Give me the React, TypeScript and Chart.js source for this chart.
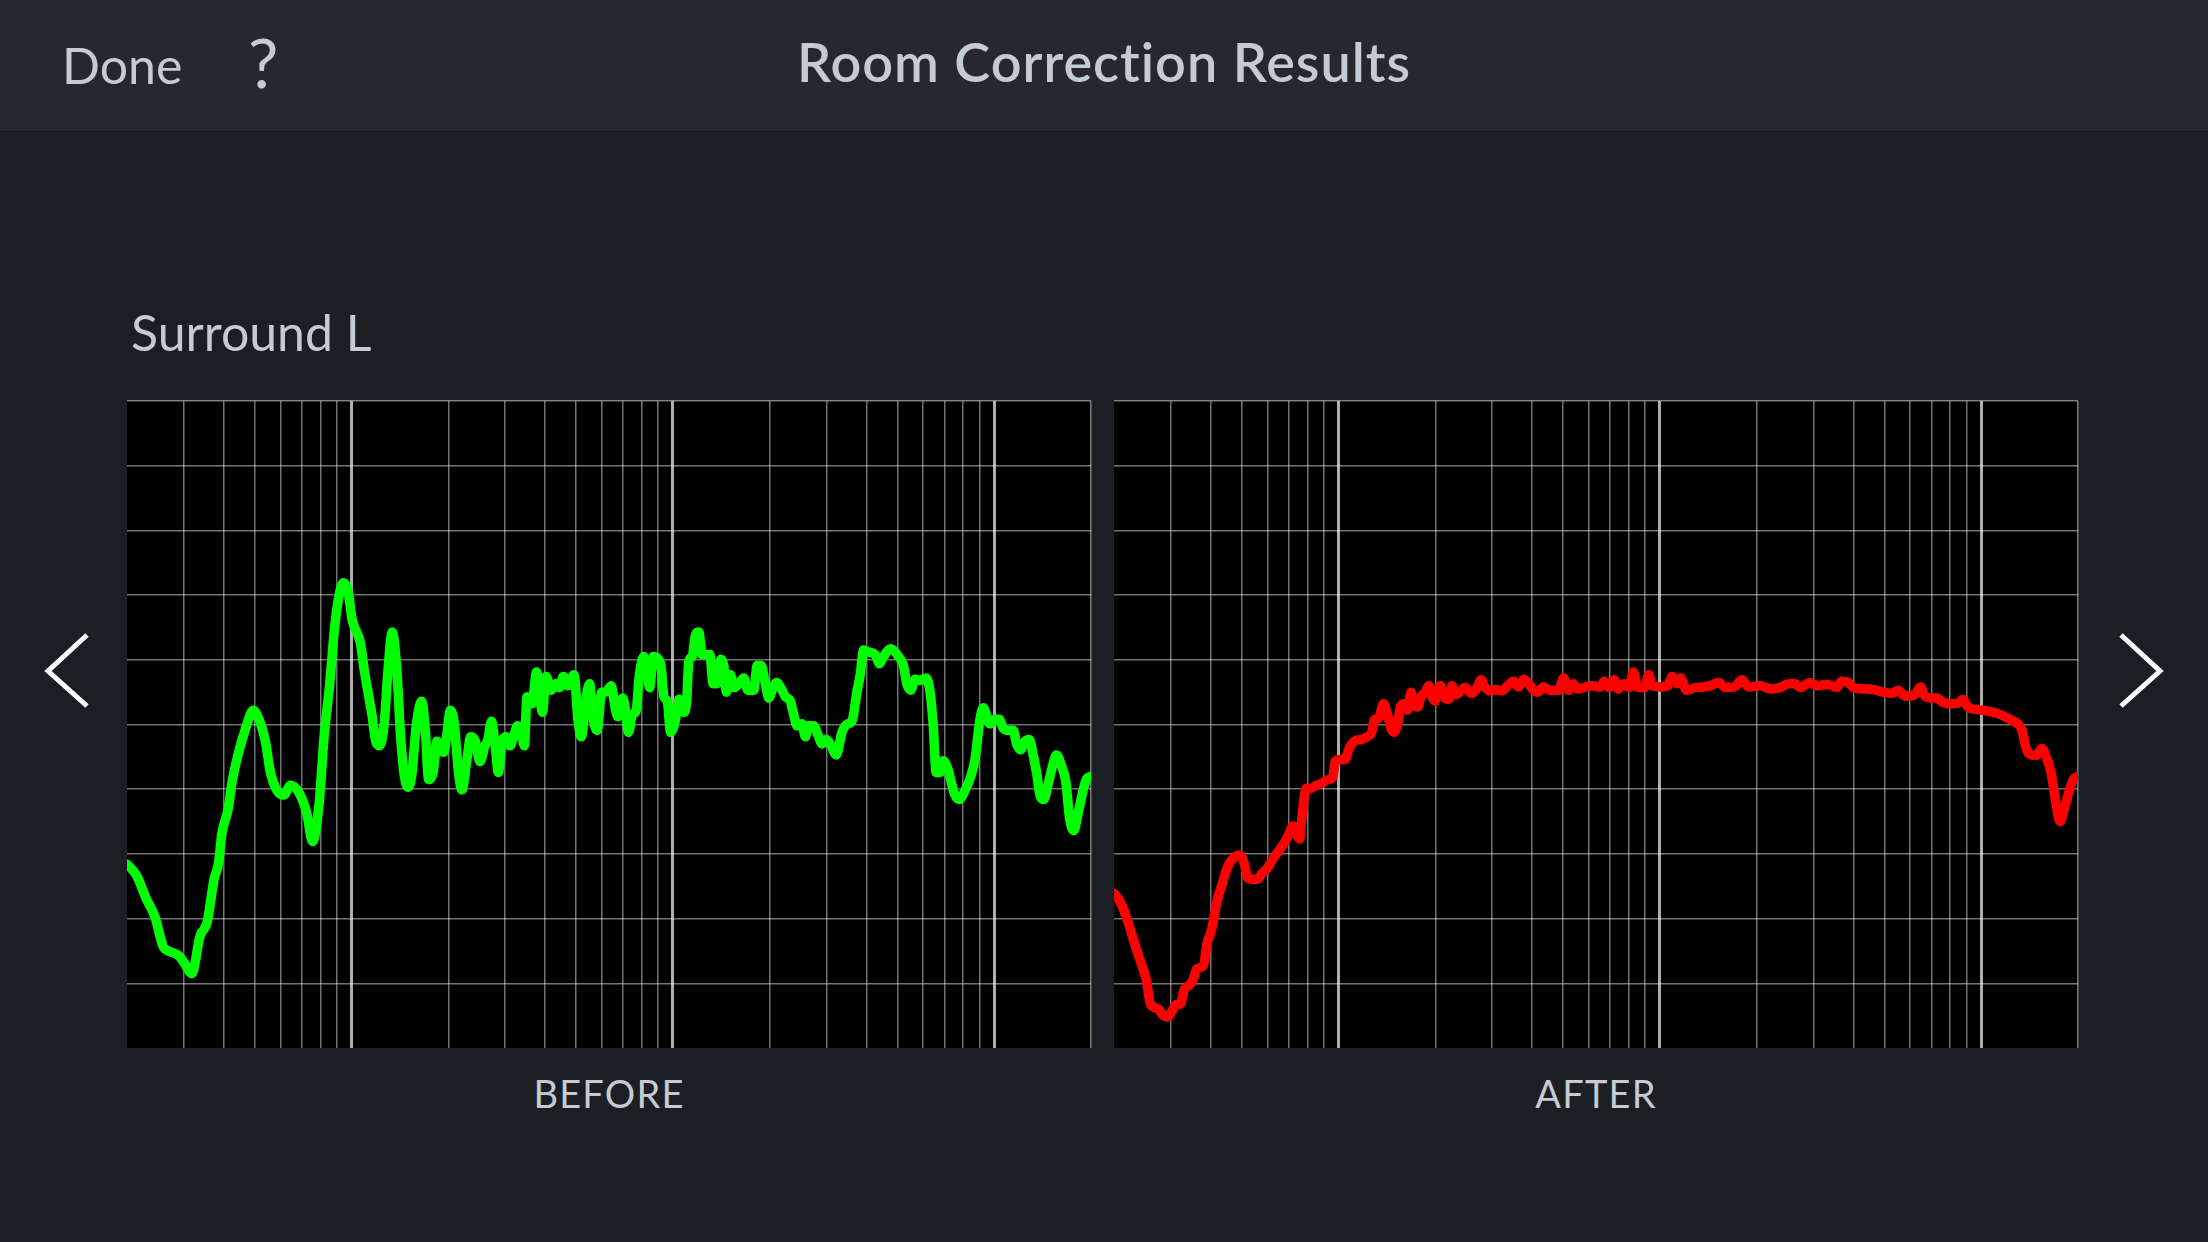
import React, { useEffect, useRef } from "react";
import { Chart, registerables } from "chart.js";

Chart.register(...registerables);

// ---------- data ----------
const titleText = "Room Correction Results";
const speakerName = "Surround L";
const panelLabels = ["BEFORE", "AFTER"];

const freqMin = 20;
const freqMax = 20000;
const levelMin = 0;
const levelMax = 100;
const levelStep = 10;

const freqGridLines = [
  20, 30, 40, 50, 60, 70, 80, 90, 100,
  200, 300, 400, 500, 600, 700, 800, 900, 1000,
  2000, 3000, 4000, 5000, 6000, 7000, 8000, 9000, 10000, 20000,
];
const majorFreqLines = [100, 1000, 10000];

const beforeFreq = [
  20, 21.4, 22.9, 24.5, 25.9, 26.9, 28.9, 30.1, 31.8, 33.8,
  35.5, 37.3, 38.6, 39.4, 41.3, 42.5, 44.3, 46.8, 49.4, 51.5,
  53.9, 55.9, 58.6, 61.5, 64.6, 68.7, 72.5, 75.6, 79.2, 82.1,
  85.5, 88.4, 90.8, 94.2, 97.6, 100.3, 106.5, 109.5, 115.7, 118.9,
  122.2, 126.3, 129.8, 133.8, 138.3, 142.1, 146.1, 150.1, 154.3, 158.6,
  165.2, 169.8, 173.6, 179.4, 184.4, 189.5, 193.8, 197.5, 203, 208.7,
  214.5, 220.4, 228.5, 234.8, 242.7, 250.8, 259.9, 265.7, 272.3, 279.9,
  286.1, 294, 302.2, 310.6, 319.3, 328.2, 337.3, 344.8, 351.5, 364.3,
  376.5, 384.8, 392.3, 403.2, 417.8, 431.8, 443.8, 456.1, 471.4, 492.6,
  506.3, 519, 534.9, 549.9, 565.2, 580.8, 600.2, 616.9, 642.8, 660.7,
  673.6, 698.1, 711.7, 727.4, 747.7, 768.5, 785.5, 811.8, 834.4, 845.9,
  869.4,
  915.7, 937.6, 960.3, 983.5, 1019, 1044, 1082, 1103, 1121, 1148,
  1176, 1204, 1233, 1303, 1334, 1373, 1413, 1440, 1468, 1510,
  1547, 1603, 1662, 1710, 1785, 1828, 1881, 1940, 1987, 2050,
  2099, 2186, 2238, 2320, 2376, 2433, 2522, 2582, 2645, 2741,
  2841, 2910, 3001, 3088, 3224, 3357, 3496, 3606, 3737, 3827,
  3920, 4062, 4261, 4395, 4523, 4764, 5034, 5216, 5342, 5498,
  5670, 5849, 6134, 6313, 6466, 6589, 6781, 6944, 7196, 7370,
  7547, 7785, 8106, 8441, 8710, 9027, 9242, 9694, 10048, 10363,
  10666, 11054, 11455, 11732, 12073, 12451, 12843, 13215, 13535, 13927,
  14262, 14712, 15247, 15616, 16183, 16694, 17180, 17677, 18233, 18894,
  19349, 20000,
];
const beforeLevel = [
  28.4, 26.7, 23.2, 20.1, 15.7, 15.0, 14.3, 13.2, 11.5, 17.4,
  19.4, 26.0, 28.8, 32.9, 37.0, 41.2, 45.3, 49.4, 52.2, 50.8,
  47.4, 42.6, 39.8, 39.1, 40.6, 39.4, 36.3, 31.9, 37.7, 48.1,
  56.3, 64.6, 69.1, 71.9, 70.5, 66.3, 62.6, 58.4, 51.5, 47.4,
  46.7, 50.1, 58.4, 64.3, 58.4, 48.1, 41.9, 40.3, 42.6, 49.4,
  53.6, 48.8, 41.5, 42.6, 47.4, 46.0, 45.7, 48.1, 52.2, 50.1,
  43.2, 39.9, 44.6, 48.1, 47.4, 44.3, 46.7, 47.7, 50.5, 46.7,
  42.6, 47.4, 48.1, 46.7, 48.1, 49.8, 48.8, 46.7, 54.3, 53.2,
  58.1, 54.6, 51.9, 57.4, 55.3, 56.3, 55.7, 57.4, 56.0, 57.7,
  50.8, 48.1, 53.6, 56.3, 50.8, 49.1, 55.0, 55.0, 56.0, 52.6,
  51.2, 54.1, 52.2, 48.8, 51.5, 52.2, 57.4, 60.5, 57.7, 55.7,
  60.5,
  59.4, 54.3, 53.6, 48.8, 50.8, 53.9, 51.9, 53.6, 59.8, 60.5,
  63.9, 64.3, 60.8, 60.8, 56.3, 56.3, 60.1, 59.1, 55.0, 57.7,
  55.7, 56.3, 57.2, 55.3, 55.3, 59.1, 59.1, 56.3, 54.1, 55.7,
  56.5, 55.3, 54.3, 53.6, 51.5, 49.8, 50.1, 48.1, 49.8, 49.8,
  48.1, 47.0, 47.7, 47.0, 45.3, 48.8, 50.1, 50.5, 55.0, 57.7,
  61.5, 61.2, 60.8, 59.4, 60.5, 61.7, 60.5, 59.1, 56.3, 55.3,
  57.0, 56.8, 57.2, 55.0, 49.4, 42.6, 42.6, 44.4, 42.9, 40.8,
  39.1, 38.4, 39.8, 41.9, 44.6, 50.8, 52.6, 50.1, 50.8, 50.8,
  49.4, 49.1, 49.1, 47.0, 46.1, 47.4, 47.7, 45.3, 42.6, 38.8,
  38.4, 40.8, 43.9, 45.3, 43.6, 41.2, 35.3, 33.6, 36.3, 39.8,
  41.5, 42.0,
];

const afterFreq = [
  20, 20.9, 21.9, 23.0, 24.1, 25.2, 25.9, 26.6, 27.5, 28.5,
  29.4, 30.3, 31.2, 32.2, 33.1, 34.1, 35.2, 36.2, 38.0, 38.9,
  40.3, 41.8, 43.4, 44.9, 47.1, 49.4, 50.9, 52.1, 53.7, 56.0,
  57.7, 59.8, 62.8, 65.1, 67.4, 69.4, 72.1, 74.2, 75.6, 76.9,
  79.3, 81.6, 84.6, 87.7, 93.1, 96.0, 97.6, 100.7, 104.9, 107.4,
  112.7, 118.2, 122.5, 127.0, 129.1, 133.2, 138.0, 141.4, 145.6, 149.1,
  152.6, 155.6, 159.4, 163.9, 168.0, 171.2, 176.2, 180.4, 186.1, 190.6,
  195.2, 200.0, 203.3, 207.3, 212.3, 219.9, 225.3, 230.7, 238.0, 247.9,
  259.9, 269.5, 277.3, 286.1, 296.5, 307.3, 322.4, 335.8, 350.4, 363.3,
  376.5, 390.3, 404.5, 416.2, 434.5, 455.7, 483.7, 501.4, 519.8, 536.2,
  554.5, 578.6, 614.4, 652.1,
  670.4, 694.7, 720.0, 740.8, 773.2, 801.3, 826.6, 850.5, 892.1, 924.6,
  946.7, 1005, 1059, 1092, 1132, 1159, 1210, 1290, 1369, 1436,
  1524, 1598, 1705, 1800, 1889, 2053, 2204, 2368, 2513, 2636,
  2731, 2934, 3077, 3344, 3550, 3679, 3858, 3999, 4295, 4612,
  4953, 5257, 5514, 5782, 6211, 6469, 6672, 6997, 7286, 7604,
  7977, 8463, 8771, 9090, 9766, 10614, 11535, 12392, 12994, 13402,
  13724, 14125, 14812, 15458, 15910, 16488, 17006, 17583, 18132, 18793,
  19338, 20000,
];
const afterLevel = [
  23.9, 22.6, 20.1, 16.7, 13.6, 10.5, 7.0, 6.3, 6.0, 5.0,
  4.8, 5.7, 6.7, 6.8, 9.1, 9.6, 10.5, 12.2, 12.8, 16.0,
  18.4, 22.6, 25.3, 27.7, 29.4, 29.8, 28.4, 26.3, 26.1, 26.1,
  27.0, 27.7, 29.4, 30.5, 31.5, 32.6, 34.3, 32.9, 32.3, 35.7,
  40.1, 40.1, 40.5, 40.8, 41.5, 41.9, 44.3, 44.6, 44.6, 46.1,
  47.5, 47.7, 48.1, 48.9, 50.7, 51.0, 53.2, 51.9, 49.4, 48.8,
  50.1, 52.6, 53.2, 52.2, 55.0, 53.2, 52.7, 54.3, 55.0, 56.0,
  54.3, 53.6, 55.3, 56.0, 54.3, 53.9, 56.0, 54.6, 55.0, 55.7,
  54.8, 55.7, 56.9, 55.7, 55.2, 55.4, 55.2, 56.0, 56.7, 55.8,
  57.0, 56.3, 55.3, 55.0, 55.8, 55.3, 55.3, 57.2, 55.3, 56.3,
  55.5, 55.7, 56.0, 55.8,
  56.7, 55.7, 56.9, 55.5, 56.3, 55.7, 58.1, 55.8, 55.7, 57.7,
  56.0, 55.8, 56.0, 57.4, 56.3, 57.2, 55.3, 55.7, 55.8, 56.0,
  56.5, 55.7, 55.8, 56.9, 55.8, 56.0, 55.5, 55.7, 56.3, 56.3,
  55.7, 56.5, 56.0, 56.2, 55.7, 56.7, 56.5, 55.7, 55.5, 55.4,
  55.0, 54.8, 55.3, 54.4, 54.6, 55.8, 54.4, 54.1, 54.1, 53.4,
  53.2, 53.3, 53.9, 52.7, 52.3, 52.0, 51.5, 50.7, 50.1, 49.1,
  46.7, 45.4, 45.2, 46.3, 45.0, 42.6, 38.4, 35.0, 37.0, 39.8,
  41.5, 42.0,
];

// ---------- styling ----------
const PAD = 5;
const TEXT_COLOR = "#c3cbd5";
const FONT = "Lato, 'Open Sans', sans-serif";

const blackArea = {
  id: "blackArea",
  beforeDraw(chart: any) {
    const { ctx, chartArea: a } = chart;
    ctx.save();
    ctx.fillStyle = "#000000";
    ctx.fillRect(a.left, a.top, a.right - a.left, a.bottom - a.top);
    ctx.restore();
  },
};

function ResponseChart(props: {
  freq: number[];
  level: number[];
  color: string;
  left: number;
  top: number;
  width: number;
  height: number;
}) {
  const ref = useRef<HTMLCanvasElement | null>(null);
  const { freq, level, color, left, top, width, height } = props;

  useEffect(() => {
    const canvas = ref.current;
    if (!canvas) return;
    const chart = new Chart(canvas, {
      type: "line",
      data: {
        datasets: [
          {
            data: freq.map((f, i) => ({ x: f, y: level[i] })),
            borderColor: color,
            borderWidth: 9.5,
            pointRadius: 0,
            borderCapStyle: "round",
            borderJoinStyle: "round",
            cubicInterpolationMode: "monotone",
            fill: false,
            clip: 0,
          } as any,
        ],
      },
      options: {
        animation: false,
        responsive: false,
        devicePixelRatio: 1,
        events: [],
        layout: { padding: PAD },
        plugins: { legend: { display: false }, tooltip: { enabled: false } },
        scales: {
          x: {
            type: "logarithmic",
            min: freqMin,
            max: freqMax,
            afterBuildTicks: (s: any) => {
              s.ticks = freqGridLines.map((v) => ({ value: v }));
            },
            ticks: { display: false },
            border: { display: false },
            grid: {
              drawTicks: false,
              color: (c: any) => {
                const v = c.tick ? c.tick.value : 0;
                if (v === freqMin) return "rgba(0,0,0,0)";
                return majorFreqLines.includes(v)
                  ? "rgba(255,255,255,0.68)"
                  : "rgba(255,255,255,0.45)";
              },
              lineWidth: (c: any) => {
                const v = c.tick ? c.tick.value : 0;
                return majorFreqLines.includes(v) ? 3 : 1.5;
              },
            },
          },
          y: {
            type: "linear",
            min: levelMin,
            max: levelMax,
            ticks: { display: false, stepSize: levelStep },
            border: { display: false },
            grid: {
              drawTicks: false,
              color: (c: any) => {
                const v = c.tick ? c.tick.value : 0;
                return v === levelMin ? "rgba(0,0,0,0)" : "rgba(255,255,255,0.45)";
              },
              lineWidth: 1.5,
            },
          },
        },
      } as any,
      plugins: [blackArea],
    });
    return () => chart.destroy();
  }, [freq, level, color]);

  return (
    <canvas
      ref={ref}
      width={width}
      height={height}
      style={{ position: "absolute", left, top, width, height }}
    />
  );
}

export default function App() {
  const areaTop = 401;
  const areaH = 647;
  const areaW = 964;
  const leftAreaX = 127;
  const rightAreaX = 1114;

  return (
    <div
      style={{
        position: "fixed",
        left: 0,
        top: 0,
        width: 2208,
        height: 1242,
        background: "#1b1e22",
        overflow: "hidden",
        fontFamily: FONT,
        color: TEXT_COLOR,
      }}
    >
      <div
        style={{
          position: "absolute",
          left: 0,
          top: 0,
          width: 2208,
          height: 131,
          background: "#25282c",
          borderBottom: "1px solid #15171a",
        }}
      />
      <div
        style={{
          position: "absolute",
          left: 62,
          top: 35,
          fontSize: 50,
          lineHeight: 1.2,
          whiteSpace: "nowrap",
        }}
      >
        Done
      </div>
      <div
        style={{
          position: "absolute",
          left: 248,
          top: 21,
          fontSize: 68,
          lineHeight: 1.2,
          fontWeight: 400,
          whiteSpace: "nowrap",
        }}
      >
        ?
      </div>
      <div
        style={{
          position: "absolute",
          left: 0,
          top: 30,
          width: 2208,
          textAlign: "center",
          fontSize: 54,
          lineHeight: 1.2,
          fontWeight: 600,
          letterSpacing: 1,
          whiteSpace: "nowrap",
        }}
      >
        {titleText}
      </div>
      <div
        style={{
          position: "absolute",
          left: 131,
          top: 302,
          fontSize: 50,
          lineHeight: 1.2,
          whiteSpace: "nowrap",
        }}
      >
        {speakerName}
      </div>

      <ResponseChart
        freq={beforeFreq}
        level={beforeLevel}
        color="#00ff00"
        left={leftAreaX - PAD}
        top={areaTop - PAD}
        width={areaW + 2 * PAD}
        height={areaH + 2 * PAD}
      />
      <ResponseChart
        freq={afterFreq}
        level={afterLevel}
        color="#ff0000"
        left={rightAreaX - PAD}
        top={areaTop - PAD}
        width={areaW + 2 * PAD}
        height={areaH + 2 * PAD}
      />

      {[leftAreaX, rightAreaX].map((x, i) => (
        <div
          key={panelLabels[i]}
          style={{
            position: "absolute",
            left: x,
            top: 1071,
            width: areaW,
            textAlign: "center",
            fontSize: 38,
            lineHeight: 1.2,
            letterSpacing: 1.2,
            whiteSpace: "nowrap",
          }}
        >
          {panelLabels[i]}
        </div>
      ))}

      <svg
        width={2208}
        height={1242}
        style={{ position: "absolute", left: 0, top: 0, pointerEvents: "none" }}
      >
        <polyline
          points="87,635 48,671 87,706"
          fill="none"
          stroke="#ffffff"
          strokeWidth={5}
        />
        <polyline
          points="2121,635 2160,671 2121,706"
          fill="none"
          stroke="#ffffff"
          strokeWidth={5}
        />
      </svg>
    </div>
  );
}
